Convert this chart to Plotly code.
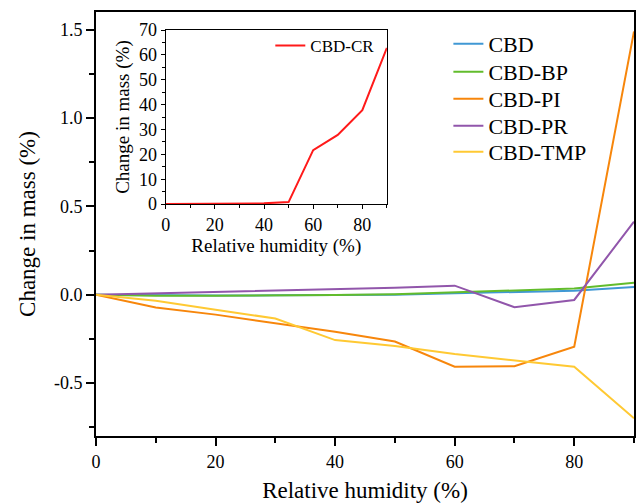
import plotly.graph_objects as go

# Relative humidity steps (%)
rh = [0, 10, 20, 30, 40, 50, 60, 70, 80, 90]

# Change in mass (%) for each composite
cbd = [0, -0.003, -0.005, -0.004, -0.002, 0.0, 0.008, 0.015, 0.022, 0.043]
cbd_bp = [0, -0.006, -0.006, -0.005, -0.002, 0.002, 0.012, 0.022, 0.035, 0.068]
cbd_pi = [0, -0.072, -0.113, -0.16, -0.21, -0.265, -0.408, -0.405, -0.295, 1.49]
cbd_pr = [0, 0.007, 0.014, 0.021, 0.03, 0.039, 0.051, -0.071, -0.03, 0.413]
cbd_tmp = [0, -0.034, -0.085, -0.135, -0.257, -0.29, -0.336, -0.37, -0.408, -0.70]
cbd_cr = [0, 0, 0, 0.2, 0.3, 0.8, 21.7, 27.8, 37.8, 62.8]

series_names = ["CBD", "CBD-BP", "CBD-PI", "CBD-PR", "CBD-TMP"]
series_values = [cbd, cbd_bp, cbd_pi, cbd_pr, cbd_tmp]
series_colors = ["#4098d4", "#62bc2c", "#f7860b", "#9156ab", "#ffc933"]

y_tickvals = [-0.5, 0.0, 0.5, 1.0, 1.5]
y_ticktext = ["-0.5", "0.0", "0.5", "1.0", "1.5"]
x_tickvals = [0, 20, 40, 60, 80]

FONT = "Liberation Serif"

fig = go.Figure()

# one legend box per main series so the entries sit with tight spacing
legend_ids = ["legend", "legend3", "legend4", "legend5", "legend6"]
legend_y = [0.9245, 0.8585, 0.7948, 0.7311, 0.6698]

for name, vals, col, lid in zip(series_names, series_values, series_colors, legend_ids):
    fig.add_trace(go.Scatter(
        x=rh, y=vals, mode="lines", name=name,
        line=dict(color=col, width=2),
        xaxis="x", yaxis="y", legend=lid,
    ))

fig.add_trace(go.Scatter(
    x=rh, y=cbd_cr, mode="lines", name="CBD-CR",
    line=dict(color="#ff1a1a", width=2),
    xaxis="x2", yaxis="y2", legend="legend2",
))

axis_common = dict(
    showline=True, linecolor="black", mirror=True,
    ticks="outside", tickcolor="black",
    showgrid=False, zeroline=False,
)

legend_layout = {}
for lid, ly in zip(legend_ids, legend_y):
    legend_layout[lid] = dict(
        x=0.655, y=ly, xanchor="left", yanchor="middle",
        bgcolor="rgba(0,0,0,0)", font=dict(size=22, family=FONT),
        itemwidth=30,
    )

fig.update_layout(
    width=637, height=503,
    margin=dict(l=96, r=1, t=12, b=67),
    plot_bgcolor="white", paper_bgcolor="white",
    font=dict(family=FONT, color="black", size=18),
    xaxis=dict(
        **axis_common, linewidth=2, ticklen=8, tickwidth=2,
        range=[0, 90], tickvals=x_tickvals,
        minor=dict(ticks="outside", dtick=10, tick0=0, ticklen=5, tickwidth=2, tickcolor="black"),
        tickfont=dict(size=18, family=FONT),
        title=dict(text="Relative humidity (%)", font=dict(size=23, family=FONT), standoff=14),
        domain=[0, 1],
    ),
    yaxis=dict(
        **axis_common, linewidth=2, ticklen=8, tickwidth=2,
        range=[-0.8, 1.6], tickvals=y_tickvals, ticktext=y_ticktext,
        minor=dict(ticks="outside", dtick=0.25, tick0=0, ticklen=5, tickwidth=2, tickcolor="black"),
        tickfont=dict(size=18, family=FONT),
        title=dict(text="Change in mass (%)", font=dict(size=23, family=FONT), standoff=12),
        domain=[0, 1],
    ),
    xaxis2=dict(
        **axis_common, linewidth=1.3, ticklen=4, tickwidth=1.3,
        range=[0, 90], tickvals=x_tickvals,
        minor=dict(ticks="outside", dtick=10, tick0=0, ticklen=3, tickwidth=1.3, tickcolor="black"),
        tickfont=dict(size=18, family=FONT),
        title=dict(text="Relative humidity (%)", font=dict(size=19, family=FONT), standoff=0),
        domain=[0.1296, 0.5407], anchor="y2",
    ),
    yaxis2=dict(
        **axis_common, linewidth=1.3, ticklen=4, tickwidth=1.3,
        range=[0, 70], dtick=10,
        minor=dict(ticks="outside", dtick=5, tick0=0, ticklen=3, tickwidth=1.3, tickcolor="black"),
        tickfont=dict(size=18, family=FONT),
        title=dict(text="Change in mass (%)", font=dict(size=19, family=FONT), standoff=4),
        domain=[0.547, 0.9575], anchor="x2",
    ),
    legend2=dict(
        x=0.324, y=0.92, xanchor="left", yanchor="middle",
        bgcolor="rgba(0,0,0,0)", font=dict(size=17, family=FONT),
    ),
    showlegend=True,
    **legend_layout,
)

fig.write_html("out.html")
